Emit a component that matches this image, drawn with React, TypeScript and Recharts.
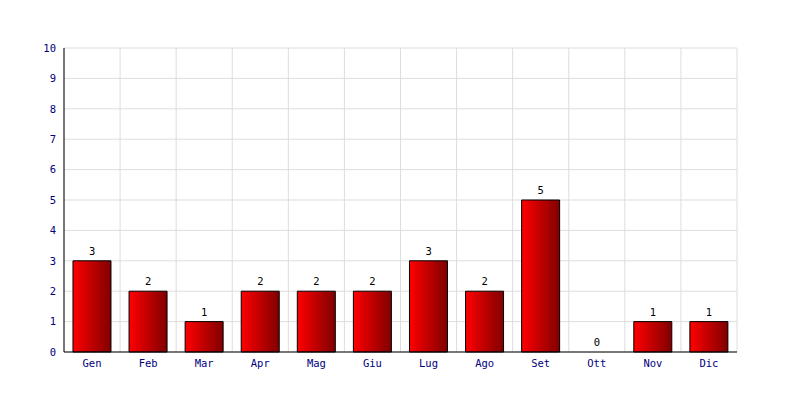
import { ComposedChart, Bar, Line, CartesianGrid, XAxis, YAxis, LabelList } from 'recharts';

const months = ['Gen', 'Feb', 'Mar', 'Apr', 'Mag', 'Giu', 'Lug', 'Ago', 'Set', 'Ott', 'Nov', 'Dic'];
const counts = [3, 2, 1, 2, 2, 2, 3, 2, 5, 0, 1, 1];
const yTicks = [0, 1, 2, 3, 4, 5, 6, 7, 8, 9, 10];

const data = months.map((m, i) => ({ name: m, value: counts[i] }));

const font = '"DejaVu Sans Mono", monospace';

// vertical grid lines sit on the category boundaries, not the centres
const boundaryLines = ({ offset }: any) =>
  Array.from({ length: months.length + 1 }, (_, i) => offset.left + (i * offset.width) / months.length);

export default function App() {
  return (
    <div style={{ position: 'absolute', left: 0, top: 0, width: 800, height: 400, background: '#fff' }}>
      <ComposedChart
        width={800}
        height={400}
        data={data}
        margin={{ top: 48, right: 63, bottom: 0, left: 0 }}
        barCategoryGap="16%"
      >
        <defs>
          <linearGradient id="barFill" x1="0" y1="0" x2="1" y2="0">
            <stop offset="0%" stopColor="#ff0000" />
            <stop offset="100%" stopColor="#800000" />
          </linearGradient>
        </defs>
        <CartesianGrid stroke="#dddddd" verticalCoordinatesGenerator={boundaryLines} />
        <XAxis
          dataKey="name"
          height={48}
          tickLine={false}
          axisLine={{ stroke: '#000' }}
          tick={{ fill: '#000080', fontSize: 10.5, fontFamily: font }}
          interval={0}
        />
        <YAxis
          width={64}
          domain={[0, 10]}
          ticks={yTicks}
          tickLine={false}
          axisLine={{ stroke: '#000' }}
          tick={{ fill: '#000080', fontSize: 10.5, fontFamily: font }}
        />
        <Bar dataKey="value" fill="url(#barFill)" stroke="#000" strokeWidth={1} isAnimationActive={false} />
        <Line dataKey="value" stroke="none" dot={false} activeDot={false} isAnimationActive={false}>
          <LabelList dataKey="value" position="top" offset={6} fill="#000" fontSize={10.5} fontFamily={font} />
        </Line>
      </ComposedChart>
    </div>
  );
}
